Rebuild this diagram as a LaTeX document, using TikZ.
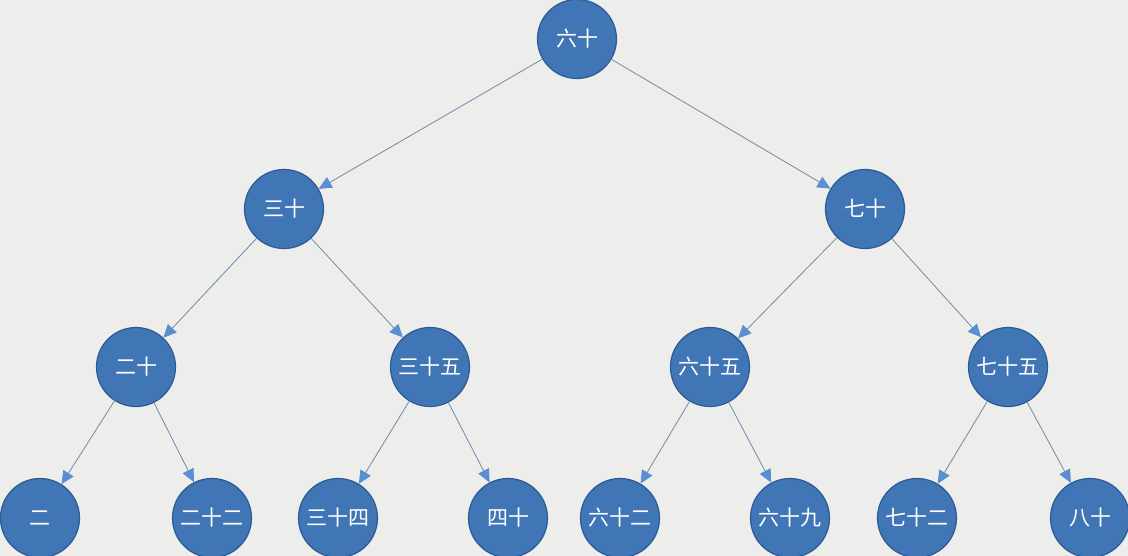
\documentclass[tikz,border=0pt]{standalone}
\usepackage{fontspec}
\newfontfamily\cjk{Noto Sans CJK SC}
\usetikzlibrary{arrows.meta}
\definecolor{bg}{HTML}{EDEDEB}
\definecolor{nodefill}{HTML}{4176B6}
\definecolor{nodeline}{HTML}{2C5A92}
\definecolor{edgecol}{HTML}{6F8AAE}
\definecolor{tipcol}{HTML}{5A8ED0}
\tikzset{
  tnode/.style={circle, fill=nodefill, draw=nodeline, line width=1.2pt, minimum size=79pt, inner sep=0pt, text=white, font=\cjk\fontsize{21}{21}\selectfont},
  tedge/.style={draw=edgecol, line width=0.8pt, -{Triangle[width=12pt,length=13pt,fill=tipcol,color=tipcol]}}
}
\begin{document}
\begin{tikzpicture}[x=1pt,y=-1pt]
\useasboundingbox (0,0) rectangle (1128,556);
\clip (0,0) rectangle (1128,556);
\fill[bg] (0,0) rectangle (1128,556);
\node[tnode] (n60) at (577,39) {六十};
\node[tnode] (n30) at (284,209) {三十};
\node[tnode] (n70) at (865,209) {七十};
\node[tnode] (n20) at (136,367) {二十};
\node[tnode] (n35) at (430,367) {三十五};
\node[tnode] (n65) at (710,367) {六十五};
\node[tnode] (n75) at (1008,367) {七十五};
\node[tnode] (n2) at (40,518) {二};
\node[tnode] (n22) at (212,518) {二十二};
\node[tnode] (n34) at (338,518) {三十四};
\node[tnode] (n40) at (508,518) {四十};
\node[tnode] (n62) at (620,518) {六十二};
\node[tnode] (n69) at (790,518) {六十九};
\node[tnode] (n72) at (917,518) {七十二};
\node[tnode] (n80) at (1090,518) {八十};
\path[tedge] (n60) -- (n30);
\path[tedge] (n60) -- (n70);
\path[tedge] (n30) -- (n20);
\path[tedge] (n30) -- (n35);
\path[tedge] (n70) -- (n65);
\path[tedge] (n70) -- (n75);
\path[tedge] (n20) -- (n2);
\path[tedge] (n20) -- (n22);
\path[tedge] (n35) -- (n34);
\path[tedge] (n35) -- (n40);
\path[tedge] (n65) -- (n62);
\path[tedge] (n65) -- (n69);
\path[tedge] (n75) -- (n72);
\path[tedge] (n75) -- (n80);
\end{tikzpicture}
\end{document}
